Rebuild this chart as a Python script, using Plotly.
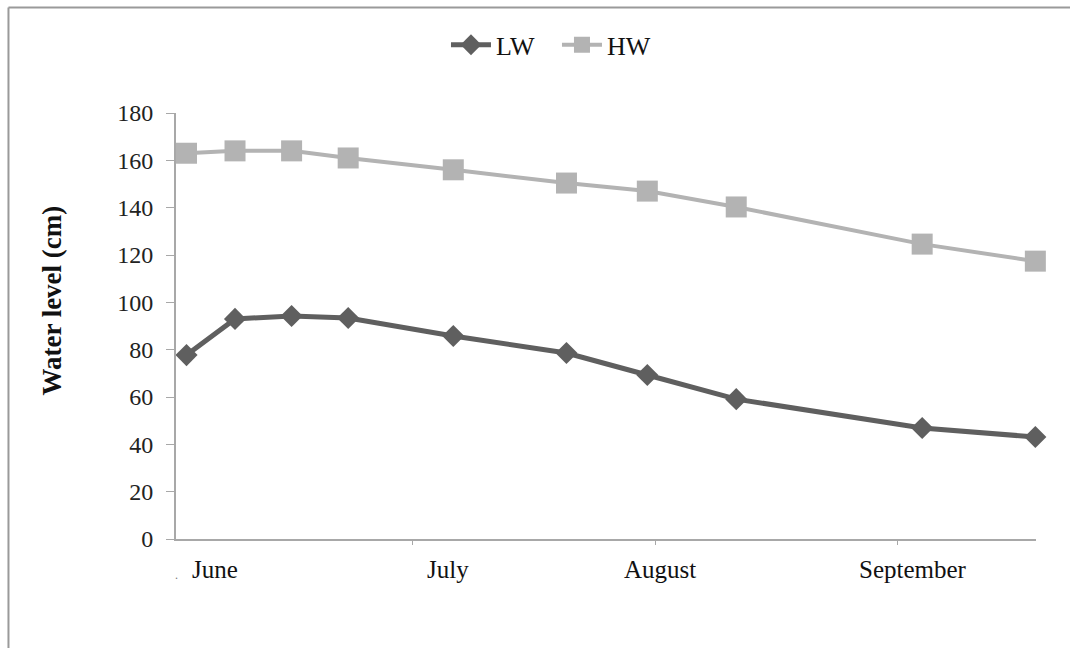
import plotly.graph_objects as go

# Sampling days (days counted from the start of June) and water levels in cm
days = [2, 8, 15, 22, 35, 49, 59, 70, 93, 107]
lw = [77.7, 93.0, 94.2, 93.4, 85.8, 78.6, 69.3, 59.1, 46.9, 43.1]
hw = [163.0, 164.0, 164.0, 161.0, 156.0, 150.4, 147.0, 140.3, 124.6, 117.4]

months = ["June", "July", "August", "September"]
month_pos = [5.5, 34.3, 60.6, 91.9]
month_ticks = [30, 60, 90]

y_ticks = list(range(0, 181, 20))

SERIF = "Liberation Serif, Times New Roman, serif"
AXIS_GREY = "#a8a8a8"

fig = go.Figure()
fig.add_trace(go.Scatter(
    x=days, y=lw, name="LW", mode="lines+markers",
    line=dict(color="#5f5f5f", width=5),
    marker=dict(symbol="diamond", size=17, color="#5f5f5f"),
    cliponaxis=False,
))
fig.add_trace(go.Scatter(
    x=days, y=hw, name="HW", mode="lines+markers",
    line=dict(color="#b3b3b3", width=4),
    marker=dict(symbol="square", size=21, color="#b3b3b3"),
    cliponaxis=False,
))

annotations = [
    dict(x=px, y=-0.072, xref="x", yref="paper", text=m, showarrow=False,
         font=dict(family=SERIF, size=25, color="#111111"),
         xanchor="center", yanchor="middle")
    for m, px in zip(months, month_pos)
]
annotations.append(dict(x=0.7, y=-0.085, xref="x", yref="paper", text=".",
                        showarrow=False, font=dict(family=SERIF, size=12, color="#777777"),
                        xanchor="center", yanchor="middle"))
annotations.append(dict(x=-0.144, y=0.56, xref="paper", yref="paper",
                        text="<b>Water level (cm)</b>", textangle=-90, showarrow=False,
                        font=dict(family=SERIF, size=27, color="#111111"),
                        xanchor="center", yanchor="middle"))

fig.update_layout(
    width=1070, height=648,
    margin=dict(l=176, r=34, t=113, b=109),
    paper_bgcolor="white", plot_bgcolor="white",
    showlegend=True,
    legend=dict(orientation="h", x=0.443, y=1.16, xanchor="center", yanchor="middle",
                font=dict(family=SERIF, size=26, color="#111111"),
                itemwidth=40, entrywidth=56, tracegroupgap=0, itemsizing="trace"),
    xaxis=dict(range=[0.7, 107.08], showgrid=False, zeroline=False,
               showline=True, linecolor=AXIS_GREY, linewidth=2,
               tickmode="array", tickvals=month_ticks, ticktext=["", "", ""],
               ticks="outside", ticklen=4, tickcolor=AXIS_GREY, tickwidth=1),
    yaxis=dict(range=[0, 180], showgrid=False, zeroline=False,
               showline=True, linecolor=AXIS_GREY, linewidth=2,
               tickmode="array", tickvals=y_ticks,
               ticks="outside", ticklen=8, tickcolor=AXIS_GREY, tickwidth=1,
               ticklabelstandoff=8,
               tickfont=dict(family=SERIF, size=24, color="#222222")),
    annotations=annotations,
    shapes=[
        dict(type="line", xref="paper", yref="paper", x0=-0.1948, x1=1.05,
             y0=1.2477, y1=1.2477, line=dict(color="#9a9a9a", width=2)),
        dict(type="line", xref="paper", yref="paper", x0=-0.1948, x1=-0.1948,
             y0=1.2477, y1=-0.26, line=dict(color="#9a9a9a", width=2)),
    ],
)

fig.write_html("out.html")
